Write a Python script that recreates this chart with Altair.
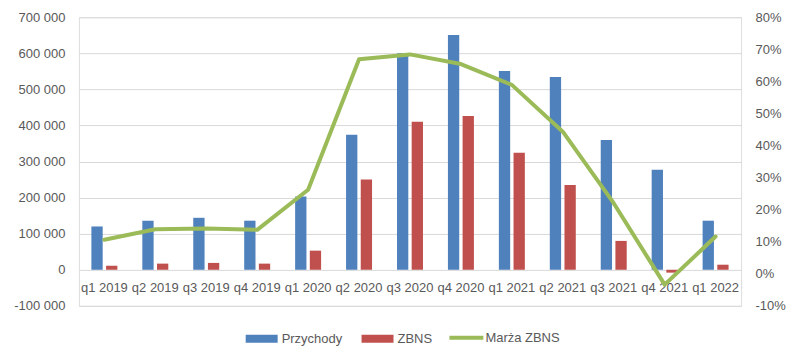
import altair as alt
import pandas as pd

categories = ["q1 2019", "q2 2019", "q3 2019", "q4 2019", "q1 2020", "q2 2020",
              "q3 2020", "q4 2020", "q1 2021", "q2 2021", "q3 2021", "q4 2021", "q1 2022"]
przychody = [120000, 136000, 144000, 136000, 203000, 374000, 600000, 651000,
             551000, 534000, 360000, 277000, 136000]
zbns = [11000, 17000, 19000, 17000, 53000, 250000, 410000, 426000,
        324000, 235000, 80000, -8000, 14000]
marza = [0.106, 0.139, 0.141, 0.137, 0.262, 0.669, 0.684, 0.654,
         0.589, 0.443, 0.22, -0.034, 0.116]

bar_series = ["Przychody", "ZBNS"]
bar_colors = ["#4F81BD", "#C0504D"]
line_series = ["Marża ZBNS"]
line_colors = ["#9BBB59"]

bars_df = pd.DataFrame(
    [{"kw": c, "series": "Przychody", "value": v} for c, v in zip(categories, przychody)]
    + [{"kw": c, "series": "ZBNS", "value": v} for c, v in zip(categories, zbns)]
)
line_df = pd.DataFrame({"kw": categories, "line_series": "Marża ZBNS", "marza": marza})

FONT = "Liberation Sans"
LABEL_COLOR = "#595959"

x_enc = alt.X("kw:N", sort=categories,
              scale=alt.Scale(paddingInner=0.49, paddingOuter=0.245),
              axis=alt.Axis(title=None, labelAngle=0, domain=False, ticks=False,
                            labelPadding=12, offset=-36, labelFontSize=13,
                            labelColor=LABEL_COLOR, labelFont=FONT))

bars = alt.Chart(bars_df).mark_bar().encode(
    x=x_enc,
    xOffset=alt.XOffset("series:N", scale=alt.Scale(domain=bar_series, paddingInner=0.23)),
    y=alt.Y("value:Q",
            scale=alt.Scale(domain=[-100000, 700000], nice=False, zero=False),
            axis=alt.Axis(title=None, values=list(range(-100000, 700001, 100000)),
                          format=",d", domain=False, ticks=False, labelPadding=14,
                          minExtent=71, maxExtent=71, gridColor="#D9D9D9",
                          labelFontSize=13, labelColor=LABEL_COLOR, labelFont=FONT)),
    color=alt.Color("series:N",
                    scale=alt.Scale(domain=bar_series, range=bar_colors),
                    legend=alt.Legend(title=None, orient="none", direction="horizontal",
                                      legendX=167, legendY=306,
                                      symbolType="M-1,-0.25H1V0.25H-1Z", symbolSize=1024,
                                      symbolStrokeWidth=0,
                                      labelOffset=4, columnPadding=19,
                                      labelFontSize=13, labelColor=LABEL_COLOR, labelFont=FONT)),
)

line = alt.Chart(line_df).mark_line(strokeWidth=4, strokeJoin="round", strokeCap="round").encode(
    x=alt.X("kw:N", sort=categories),
    y=alt.Y("marza:Q",
            scale=alt.Scale(domain=[-0.1, 0.8], nice=False, zero=False),
            axis=alt.Axis(title=None, orient="right", values=[-0.1, 0, 0.1, 0.2, 0.3, 0.4, 0.5, 0.6, 0.7, 0.8],
                          format=".0%", grid=False, domain=False, ticks=False, labelPadding=14,
                          labelFontSize=13, labelColor=LABEL_COLOR, labelFont=FONT)),
    stroke=alt.Stroke("line_series:N",
                      scale=alt.Scale(domain=line_series, range=line_colors),
                      legend=alt.Legend(title=None, orient="none", direction="horizontal",
                                        legendX=369, legendY=302,
                                        symbolType="stroke", symbolSize=1156,
                                        symbolStrokeWidth=4,
                                        labelOffset=0,
                                        labelFontSize=13, labelColor=LABEL_COLOR, labelFont=FONT)),
)

chart = alt.layer(bars, line).resolve_scale(y="independent").properties(
    width=663, height=289,
    padding={"left": 0, "top": 3, "right": 5, "bottom": 5},
).configure_view(stroke=None).configure(
    locale={"number": {"decimal": ",", "thousands": " ", "grouping": [3],
                       "currency": ["", " zł"], "minus": "-"}},
    background="white",
)

chart.save("out.html", embed_options={"renderer": "svg", "actions": False})
